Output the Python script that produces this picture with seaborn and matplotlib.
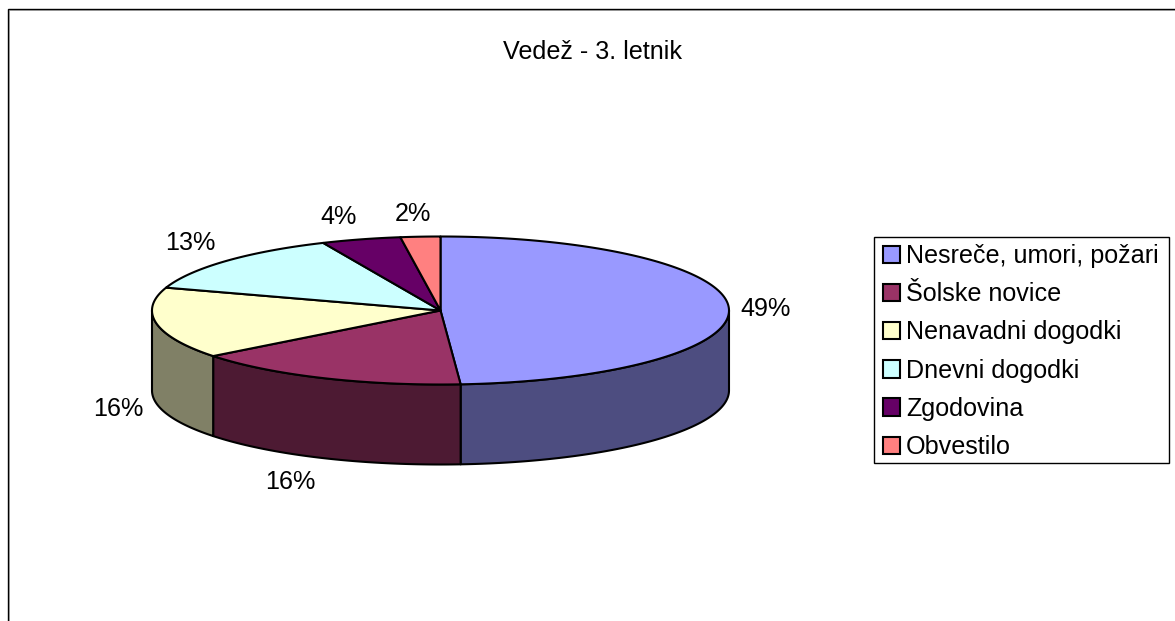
import numpy as np
import matplotlib
matplotlib.use("Agg")
import matplotlib.pyplot as plt
from matplotlib.patches import Polygon, Patch, Rectangle
import seaborn as sns

# --- data ---
title = "Vedež - 3. letnik"
categories = ["Nesreče, umori, požari", "Šolske novice", "Nenavadni dogodki",
              "Dnevni dogodki", "Zgodovina", "Obvestilo"]
counts = [22, 7, 7, 6, 2, 1]
colors = ["#9999FF", "#993366", "#FFFFCC", "#CCFFFF", "#660066", "#FF8080"]

# --- layout (pixels) ---
W, H = 1175, 621
CX, CY, RX, RY, DEPTH = 440.5, 310.5, 288.5, 74, 80
LABEL_OFFSETS = [(37, 1), (-33, 104), (-38, 86), (-36, -18), (-22, -22), (-7, -23)]
LW = 1.5
FS = 18.1

sns.set_theme(style="white")
plt.rcParams["font.family"] = ["Liberation Sans", "DejaVu Sans"]
palette = sns.color_palette(colors)

fig = plt.figure(figsize=(W / 100, H / 100), dpi=100)
ax = fig.add_axes([0, 0, 1, 1])
ax.set_xlim(0, W)
ax.set_ylim(H, 0)
ax.axis("off")


def rim(t, dy=0.0):
    t = np.asarray(t, dtype=float)
    return np.column_stack([CX + RX * np.sin(t), CY - RY * np.cos(t) + dy])


vals = np.array(counts, dtype=float)
edges = np.concatenate([[0], np.cumsum(vals)]) / vals.sum() * 2 * np.pi

# side walls (front half only)
for i, col in enumerate(palette):
    a, b = max(edges[i], np.pi / 2), min(edges[i + 1], 3 * np.pi / 2)
    if b <= a:
        continue
    t = np.linspace(a, b, 120)
    pts = np.vstack([rim(t), rim(t[::-1], DEPTH)])
    dark = tuple(np.array(col) * 0.5)
    ax.add_patch(Polygon(pts, closed=True, facecolor=dark, edgecolor="black",
                         linewidth=LW, joinstyle="round", zorder=2))

# top faces
for i, col in enumerate(palette):
    t = np.linspace(edges[i], edges[i + 1], 240)
    pts = np.vstack([[CX, CY], rim(t)])
    ax.add_patch(Polygon(pts, closed=True, facecolor=col, edgecolor="black",
                         linewidth=LW, joinstyle="round", zorder=3))

# percentage labels
pct = vals / vals.sum() * 100
for i, p in enumerate(pct):
    mid = (edges[i] + edges[i + 1]) / 2
    x, y = rim([mid])[0]
    dx, dy = LABEL_OFFSETS[i]
    ax.text(x + dx, y + dy, f"{p:.0f}%", ha="center", va="center",
            fontsize=FS, color="black", zorder=5)

ax.text(592.5, 52, title, ha="center", va="center", fontsize=FS, color="black")

# chart-area frame: shadow line then black line (open at right and bottom)
ax.plot([9, 9, W], [H, 10, 10], color="#B8B8B8", lw=0.72, zorder=1, solid_capstyle="butt")
ax.plot([7.7, 7.7, W], [H, 8.7, 8.7], color="black", lw=1.0, zorder=1,
        solid_capstyle="butt", solid_joinstyle="miter")

# legend box and legend entries
ax.add_patch(Rectangle((874, 237), 295, 226, facecolor="white", edgecolor="black",
                       linewidth=1.0, zorder=4))
handles = [Patch(facecolor=c, edgecolor="black", linewidth=LW) for c in palette]
leg = ax.legend(handles, categories, loc="upper left", bbox_to_anchor=(883, 244),
                bbox_transform=ax.transData, borderaxespad=0, fontsize=FS,
                frameon=False, handlelength=0.68, handleheight=0.68,
                handletextpad=0.24, labelspacing=0.566, borderpad=0,
                labelcolor="black")
leg.set_zorder(6)

fig.savefig("out.png", dpi=100, facecolor="white")
